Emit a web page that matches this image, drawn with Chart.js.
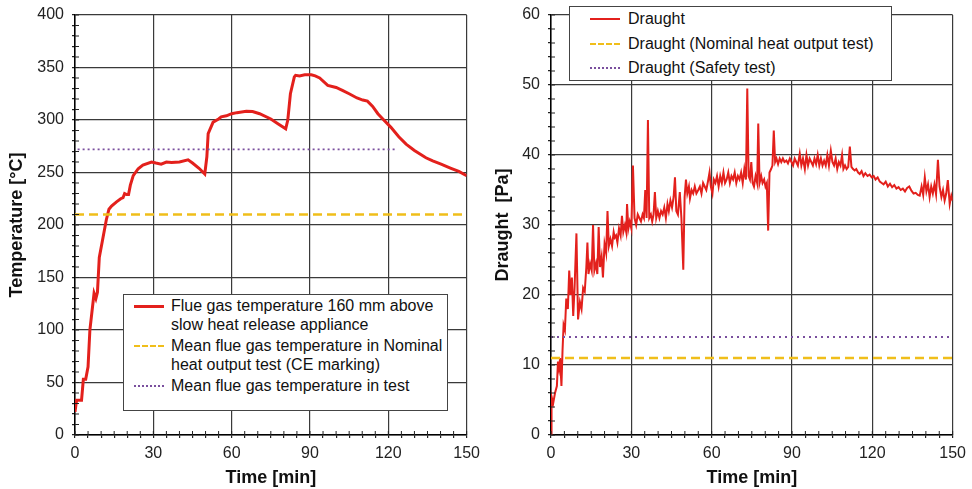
<!DOCTYPE html>
<html>
<head>
<meta charset="utf-8">
<script src="https://cdn.jsdelivr.net/npm/chart.js@4.4.1/dist/chart.umd.min.js"></script>
<style>
  body { margin: 0; background: #fff; font-family: "Liberation Sans", Arial, sans-serif; }
  .box { position: absolute; top: 0; width: 486px; height: 489px; }
  .legend { position: absolute; background: #fff; border: 1px solid #444; color: #111; font-size: 16px; line-height: 19px; }
  .item { position: relative; padding-left: 47px; }
  .swatch { position: absolute; left: 10px; top: 9px; width: 30px; height: 0; }
</style>
</head>
<body>
<div class="box" style="left:0"><canvas id="temp"></canvas></div>
<div class="box" style="left:486px"><canvas id="draught"></canvas></div>

<div class="legend" style="left:123px; top:294px; width:323px; height:114px; padding-top:1px">
  <div class="item"><span class="swatch" style="border-top:3px solid #e3201c"></span>Flue gas temperature 160 mm above<br>slow heat release appliance</div>
  <div class="item" style="margin-top:2px"><span class="swatch" style="border-top:2px dashed #f0be1a"></span>Mean flue gas temperature in Nominal<br>heat output test (CE marking)</div>
  <div class="item" style="margin-top:2px"><span class="swatch" style="border-top:2px dotted #7a4f9e"></span>Mean flue gas temperature in test</div>
</div>
<div class="legend" style="left:569px; top:6px; width:321px; height:73px; line-height:24.5px">
  <div class="item" style="padding-left:58px"><span class="swatch" style="left:20px; top:11px; border-top:2px solid #e3201c"></span>Draught</div>
  <div class="item" style="padding-left:58px"><span class="swatch" style="left:20px; top:11px; border-top:2px dashed #f0be1a"></span>Draught (Nominal heat output test)</div>
  <div class="item" style="padding-left:58px"><span class="swatch" style="left:20px; top:11px; border-top:2px dotted #7a4f9e"></span>Draught (Safety test)</div>
</div>

<script>
// flue gas temperature
const tempTime = [0, 0.6, 2.5, 3.2, 4.1, 5, 5.7, 7.3, 8.0, 8.6, 9.3, 10.5, 12, 13, 14, 15.9, 17.5, 18.4, 19.0, 19.8,
  20.5, 21.2, 22.3, 24.2, 26, 29.3, 31, 33, 35, 37, 40, 43.3, 45, 47.5, 49.7, 50.5, 51, 52.9, 55, 56,
  58, 60, 62, 65.6, 68, 70.7, 75, 78, 80.7, 81.5, 82.5, 84, 84.5, 86, 88, 90.5, 92, 93.7, 96.8, 100,
  102.6, 105, 108, 110.2, 112, 114, 116, 117.9, 121, 124, 126.8, 130, 134.4, 137, 140.2, 144, 147, 150];
const tempValue = [22, 33, 33, 53, 53, 65, 100, 135, 130, 136, 169, 185, 205, 215, 218, 222, 225, 226, 230, 229,
  229, 238, 247, 253.6, 257, 260, 259, 258, 260, 259.5, 260, 262, 259, 254, 248.5, 265, 287, 298, 301, 303,
  304, 306, 307, 308.4, 308, 306, 301, 296, 291.6, 300, 325, 341, 342.6, 342, 343, 343, 342, 340, 333, 331,
  328, 325, 321, 319, 318, 313, 306, 301, 293, 284, 277, 271, 264, 261, 258, 254, 251, 247];

const meanNominalTemp = 210;
const meanTestTemp = 272;
const meanTestSpan = [1, 123];

// draught
const draughtTime = [0, 0.2, 0.8, 1.5, 2.2, 2.6, 3.0, 3.4, 3.9, 4.3, 4.7, 5.2, 5.7, 6.3, 6.8, 7.3, 7.8, 8.3, 8.8, 9.5,
  10.1, 10.8, 11.4, 12.0, 12.6, 13.2, 13.6, 14.0, 14.6, 15.2, 15.7, 16.2, 16.8, 17.3, 17.8, 18.3, 18.9, 19.4, 20.0, 20.6,
  21.1, 21.6, 22.2, 22.8, 23.4, 23.8, 24.3, 24.8, 25.4, 26.0, 26.5, 27.0, 27.6, 28.1, 28.4, 28.9, 29.4, 30.0, 30.6, 31.2,
  31.8, 32.4, 33.0, 33.6, 34.2, 34.7, 35.2, 35.7, 36.2, 36.7, 37.3, 37.8, 38.3, 38.8, 39.3, 39.9, 40.5, 41.1, 41.7, 42.3,
  42.9, 43.5, 44.0, 44.6, 45.2, 45.8, 46.3, 46.8, 47.4, 48.1, 48.7, 49.4, 49.9, 50.4, 50.9, 51.5, 51.9, 52.5, 53.1, 53.7,
  54.3, 55.0, 55.6, 56.2, 56.8, 57.4, 58.0, 58.7, 59.2, 59.7, 60.3, 60.8, 61.4, 62.0, 62.6, 63.2, 63.8, 64.4, 65.0, 65.6,
  66.2, 66.8, 67.4, 68.0, 68.6, 69.2, 69.8, 70.4, 71.0, 71.6, 72.2, 72.8, 73.3, 73.8, 74.3, 74.8, 75.3, 75.8, 76.4, 77.0,
  77.4, 77.9, 78.5, 79.0, 79.6, 80.1, 80.6, 81.1, 81.6, 82.2, 82.7, 83.2, 83.7, 84.2, 84.8, 85.4, 86.0, 86.6, 87.2, 87.9,
  88.5, 89.2, 89.8, 90.4, 91.0, 91.6, 92.2, 92.9, 93.5, 94.1, 94.8, 95.4, 96.0, 96.6, 97.2, 97.8, 98.4, 99.0, 99.6, 100.2,
  100.8, 101.4, 102.0, 102.6, 103.2, 103.8, 104.5, 105.1, 105.7, 106.3, 106.9, 107.5, 108.1, 108.7, 109.2, 109.8, 110.4, 111.0, 111.6, 112.2,
  112.8, 113.4, 114.0, 114.7, 115.3, 116.0, 116.7, 117.4, 118.2, 119.0, 119.8, 120.5, 121.2, 122.0, 122.8, 123.5, 124.2, 125.0, 125.8, 126.6,
  127.4, 128.2, 129.0, 129.8, 130.6, 131.4, 132.2, 133.0, 133.8, 134.6, 135.4, 136.2, 137.0, 137.7, 138.4, 139.0, 139.6, 140.2, 140.8, 141.4,
  142.0, 142.6, 143.2, 143.8, 144.5, 145.1, 145.8, 146.4, 147.0, 147.6, 148.2, 148.9, 149.5, 150];
const draughtValue = [0, 5.5, 4.5, 6, 7, 10.5, 9.5, 11, 7, 12, 15.7, 15, 19.5, 18, 23.5, 20, 22.5, 17, 21, 28.8,
  16.5, 19, 18, 21, 20.5, 24, 27.5, 23, 24.5, 23.5, 30, 23.5, 24.5, 23, 29.7, 24, 25.5, 22.5, 27.3, 26,
  32, 27, 28, 27, 29, 28.2, 28.5, 27.5, 29.5, 28.5, 31.3, 29, 30, 29, 33, 29.5, 30.5, 29.5, 38.5, 31,
  30, 31.5, 31, 30.5, 31.5, 31, 35, 31, 45, 31, 31.5, 30.5, 31.5, 34.7, 31, 32, 31, 32, 31.5, 32.5,
  31, 33, 32, 33.5, 32.5, 34, 36.8, 32, 31.5, 34.7, 31, 23.6, 34, 36.5, 34.5, 35.5, 33.8, 35, 34.5, 35.5,
  34.5, 35, 35.5, 34.5, 36, 35.5, 35, 36.4, 37.5, 35.5, 34.5, 36.5, 36, 37, 35.5, 37, 36, 37.5, 36, 36.5,
  37.5, 36, 37, 36.5, 37.5, 36, 37, 36.5, 37.5, 36, 38, 36.5, 49.5, 37, 36.5, 39, 36, 35.5, 37, 36,
  44.5, 36, 37, 36, 36.5, 35.5, 36, 29.2, 37.5, 38, 38.5, 43.5, 39, 39.5, 38.7, 39.5, 39, 39.5, 39, 39.2,
  38.8, 39.5, 39, 38.5, 39.5, 39, 38.5, 40.2, 38.5, 39.5, 38, 40, 38.5, 39.5, 39, 38.5, 39.5, 38.7, 40, 38.5,
  39.5, 38.5, 39.2, 38.5, 40, 38.5, 40.6, 39, 38.5, 39.5, 38, 39, 38.5, 40, 38, 38.5, 38, 38.3, 41.2, 38.3,
  38, 37.8, 38, 37.5, 37.3, 37.7, 37, 37.4, 37, 37.2, 36.8, 37, 36.5, 36.8, 36.2, 36, 35.8, 36.2, 35.5, 35.9,
  35.4, 35.7, 35.2, 35.4, 35, 35.2, 34.8, 35.3, 35.5, 34.9, 34.5, 34.6, 34.3, 34.2, 35.5, 34.3, 36.8, 34.8, 35.8, 34,
  35.5, 34.5, 35.8, 34.4, 39.3, 35.5, 34, 35, 33.5, 34.5, 36.4, 33, 34.2, 33.5];

const draughtNominal = 11;
const draughtSafety = 14;

const RED = '#e3201c', YELLOW = '#f0be1a', PURPLE = '#7a4f9e';
const FONT = "'Liberation Sans', Arial, sans-serif";

function pts(xs, ys) { return xs.map((x, i) => ({ x: x, y: ys[i] })); }
function flat(y, a, b) { return [{ x: a, y: y }, { x: b, y: y }]; }

// small tick marks that reach into the plot, like the spreadsheet original
const innerTicks = {
  id: 'innerTicks',
  afterDraw(chart) {
    const ctx = chart.ctx, a = chart.chartArea;
    ctx.save();
    ctx.strokeStyle = '#222';
    ctx.lineWidth = 1;
    ctx.beginPath();
    chart.scales.x.ticks.forEach((t) => {
      const px = chart.scales.x.getPixelForValue(t.value);
      ctx.moveTo(px, a.bottom);
      ctx.lineTo(px, a.bottom - 4);
    });
    chart.scales.y.ticks.forEach((t) => {
      const py = chart.scales.y.getPixelForValue(t.value);
      ctx.moveTo(a.left, py);
      ctx.lineTo(a.left + 4, py);
    });
    ctx.stroke();
    ctx.restore();
  }
};

function axes(yMax, yMinor, yMajor, yTitle, yWidth) {
  return {
    x: {
      type: 'linear', min: 0, max: 150,
      afterFit: (s) => { s.height = 54; },
      border: { color: '#000', width: 1.5 },
      grid: {
        color: (c) => c.tick && c.tick.value % 30 === 0 ? '#3a3a3a' : 'rgba(0,0,0,0)',
        tickColor: '#222', tickLength: 3, lineWidth: 1.2
      },
      ticks: {
        stepSize: 5, autoSkip: false, maxRotation: 0, padding: 6, color: '#222',
        font: { family: FONT, size: 16 },
        callback: (v) => v % 30 === 0 ? v : ''
      },
      title: { display: true, text: 'Time [min]', color: '#111', font: { family: FONT, size: 18, weight: 'bold' }, padding: 0 }
    },
    y: {
      min: 0, max: yMax,
      afterFit: (s) => { s.width = yWidth; s.paddingTop = 0; s.paddingBottom = 0; },
      border: { color: '#000', width: 1.5 },
      grid: {
        color: (c) => c.tick && c.tick.value % yMajor === 0 ? '#3a3a3a' : 'rgba(0,0,0,0)',
        tickColor: '#222', tickLength: 3, lineWidth: 1.2
      },
      ticks: {
        stepSize: yMinor, autoSkip: false, padding: 8, color: '#222',
        font: { family: FONT, size: 16 },
        callback: (v) => v % yMajor === 0 ? v : ''
      },
      title: { display: true, text: yTitle, color: '#111', font: { family: FONT, size: 18, weight: 'bold' }, padding: { top: 6, bottom: 0 } }
    }
  };
}

const common = {
  responsive: true, maintainAspectRatio: false, animation: false,
  plugins: { legend: { display: false }, tooltip: { enabled: false } },
  elements: { point: { radius: 0 }, line: { tension: 0 } }
};

new Chart(document.getElementById('temp'), {
  type: 'line',
  data: {
    datasets: [
      { label: 'Mean flue gas temperature in Nominal heat output test (CE marking)', data: flat(meanNominalTemp, 0, 150),
        borderColor: YELLOW, borderWidth: 2.5, borderDash: [9, 5] },
      { label: 'Mean flue gas temperature in test', data: flat(meanTestTemp, meanTestSpan[0], meanTestSpan[1]),
        borderColor: PURPLE, borderWidth: 1.8, borderDash: [2, 3] },
      { label: 'Flue gas temperature 160 mm above slow heat release appliance', data: pts(tempTime, tempValue),
        borderColor: RED, borderWidth: 3 }
    ]
  },
  options: Object.assign({}, common, {
    layout: { padding: { top: 15, right: 19, left: 0, bottom: 0 } },
    scales: axes(400, 10, 50, 'Temperature [°C]', 75)
  }),
  plugins: [innerTicks]
});

new Chart(document.getElementById('draught'), {
  type: 'line',
  data: {
    datasets: [
      { label: 'Draught (Nominal heat output test)', data: flat(draughtNominal, 0, 150),
        borderColor: YELLOW, borderWidth: 2.5, borderDash: [9, 5] },
      { label: 'Draught (Safety test)', data: flat(draughtSafety, 0, 150),
        borderColor: PURPLE, borderWidth: 2, borderDash: [2, 4] },
      { label: 'Draught', data: pts(draughtTime, draughtValue),
        borderColor: RED, borderWidth: 2 }
    ]
  },
  options: Object.assign({}, common, {
    layout: { padding: { top: 15, right: 19, left: 0, bottom: 0 } },
    scales: axes(60, 2, 10, 'Draught  [Pa]', 65)
  }),
  plugins: [innerTicks]
});
</script>
</body>
</html>
